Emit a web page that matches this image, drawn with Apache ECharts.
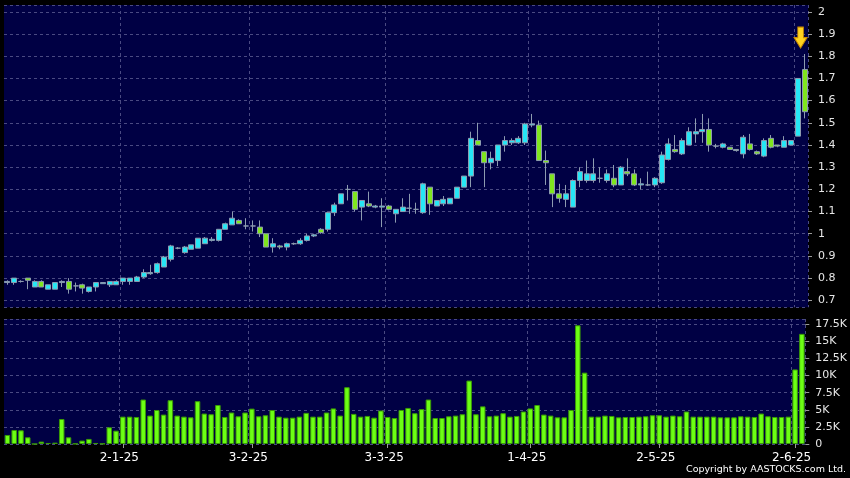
<!DOCTYPE html>
<html><head><meta charset="utf-8">
<script src="https://cdn.jsdelivr.net/npm/echarts@6/dist/echarts.min.js"></script>
<style>html,body{margin:0;padding:0;background:#000;}#c{width:850px;height:478px;}</style>
</head><body><div id="c"></div>
<script>
const dates = [
'5-12-24','6-12-24','9-12-24','10-12-24','11-12-24','12-12-24','13-12-24','16-12-24','17-12-24','18-12-24','19-12-24','20-12-24','23-12-24','24-12-24','27-12-24','30-12-24','31-12-24',
'2-1-25','3-1-25','6-1-25','7-1-25','8-1-25','9-1-25','10-1-25','13-1-25','14-1-25','15-1-25','16-1-25','17-1-25','20-1-25','21-1-25','22-1-25','23-1-25','24-1-25','27-1-25','28-1-25',
'3-2-25','4-2-25','5-2-25','6-2-25','7-2-25','10-2-25','11-2-25','12-2-25','13-2-25','14-2-25','17-2-25','18-2-25','19-2-25','20-2-25','21-2-25','24-2-25','25-2-25','26-2-25','27-2-25','28-2-25',
'3-3-25','4-3-25','5-3-25','6-3-25','7-3-25','10-3-25','11-3-25','12-3-25','13-3-25','14-3-25','17-3-25','18-3-25','19-3-25','20-3-25','21-3-25','24-3-25','25-3-25','26-3-25','27-3-25','28-3-25','31-3-25',
'1-4-25','2-4-25','3-4-25','7-4-25','8-4-25','9-4-25','10-4-25','11-4-25','14-4-25','15-4-25','16-4-25','17-4-25','22-4-25','23-4-25','24-4-25','25-4-25','28-4-25','29-4-25','30-4-25',
'2-5-25','6-5-25','7-5-25','8-5-25','9-5-25','12-5-25','13-5-25','14-5-25','15-5-25','16-5-25','19-5-25','20-5-25','21-5-25','22-5-25','23-5-25','26-5-25','27-5-25','28-5-25','29-5-25','30-5-25',
'2-6-25','3-6-25'
];
const opens = [0.78,0.78,0.785,0.80,0.76,0.785,0.75,0.75,0.78,0.785,0.765,0.77,0.74,0.76,0.775,0.77,0.77,
0.785,0.785,0.785,0.805,0.82,0.825,0.85,0.885,0.935,0.915,0.93,0.935,0.955,0.97,0.97,1.02,1.04,1.06,1.035,
1.035,1.03,1.00,0.94,0.945,0.94,0.955,0.955,0.97,0.99,1.02,1.02,1.095,1.135,1.20,1.19,1.12,1.135,1.12,1.12,
1.125,1.09,1.10,1.115,1.11,1.095,1.21,1.125,1.135,1.135,1.16,1.21,1.26,1.42,1.37,1.32,1.33,1.40,1.41,1.41,1.41,
1.49,1.49,1.33,1.27,1.18,1.155,1.12,1.24,1.24,1.24,1.25,1.24,1.25,1.22,1.28,1.27,1.22,1.22,1.22,
1.23,1.335,1.38,1.36,1.40,1.45,1.46,1.47,1.395,1.39,1.39,1.38,1.36,1.405,1.37,1.35,1.43,1.40,1.39,1.40,
1.44,1.74];
const closes = [0.785,0.80,0.785,0.79,0.785,0.76,0.77,0.78,0.785,0.75,0.765,0.755,0.76,0.78,0.78,0.785,0.785,
0.80,0.80,0.805,0.825,0.825,0.865,0.895,0.945,0.935,0.94,0.95,0.98,0.98,0.975,1.02,1.045,1.07,1.045,1.035,
1.035,1.00,0.94,0.955,0.94,0.955,0.955,0.97,0.99,0.995,1.005,1.095,1.13,1.18,1.20,1.11,1.15,1.125,1.125,1.125,
1.11,1.11,1.12,1.115,1.11,1.225,1.135,1.15,1.155,1.16,1.21,1.26,1.43,1.40,1.32,1.34,1.40,1.42,1.42,1.43,1.495,
1.495,1.33,1.32,1.18,1.16,1.18,1.24,1.28,1.27,1.27,1.25,1.27,1.22,1.30,1.27,1.22,1.225,1.22,1.25,
1.355,1.405,1.37,1.42,1.46,1.46,1.47,1.40,1.395,1.405,1.38,1.375,1.435,1.38,1.36,1.42,1.39,1.395,1.42,1.42,
1.70,1.55];
const lows = [0.77,0.77,0.78,0.75,0.76,0.76,0.75,0.75,0.76,0.73,0.74,0.73,0.735,0.74,0.775,0.76,0.77,
0.77,0.77,0.785,0.80,0.815,0.82,0.85,0.875,0.93,0.91,0.93,0.935,0.955,0.965,0.965,1.02,1.04,1.045,1.02,
1.01,0.985,0.94,0.915,0.93,0.925,0.95,0.95,0.965,0.985,1.00,1.01,1.08,1.135,1.15,1.10,1.06,1.12,1.115,1.03,
1.105,1.05,1.10,1.09,1.09,1.09,1.085,1.125,1.125,1.135,1.16,1.21,1.21,1.40,1.21,1.29,1.305,1.37,1.40,1.405,1.40,
1.48,1.33,1.22,1.12,1.14,1.12,1.12,1.21,1.23,1.23,1.23,1.23,1.21,1.22,1.26,1.215,1.20,1.215,1.21,
1.225,1.33,1.365,1.355,1.40,1.41,1.41,1.37,1.385,1.385,1.38,1.37,1.34,1.375,1.355,1.345,1.385,1.39,1.39,1.40,
1.44,1.52];
const highs = [0.79,0.80,0.79,0.80,0.79,0.79,0.77,0.78,0.79,0.80,0.78,0.775,0.76,0.78,0.78,0.785,0.79,
0.80,0.80,0.81,0.84,0.86,0.87,0.90,0.95,0.94,0.945,0.95,0.98,0.985,0.985,1.02,1.05,1.10,1.065,1.07,
1.06,1.06,1.00,0.98,0.95,0.96,0.96,0.98,1.00,1.00,1.025,1.10,1.14,1.18,1.22,1.19,1.15,1.19,1.13,1.16,
1.13,1.11,1.16,1.18,1.14,1.23,1.21,1.15,1.17,1.16,1.21,1.26,1.46,1.50,1.37,1.37,1.40,1.44,1.43,1.44,1.50,
1.54,1.51,1.375,1.27,1.225,1.22,1.245,1.30,1.33,1.34,1.30,1.29,1.31,1.305,1.34,1.29,1.25,1.28,1.255,
1.37,1.43,1.445,1.43,1.48,1.52,1.54,1.52,1.405,1.41,1.39,1.38,1.445,1.45,1.375,1.43,1.445,1.40,1.44,1.42,
1.70,1.81];
const volumes = [1320,2050,2000,980,0,350,150,200,3650,980,
50,500,740,150,50,2440,1950,4000,4000,3950,
6500,4150,4970,4300,6400,4150,4000,3900,6260,4450,
4350,5700,3950,4600,4050,4600,5170,4050,4200,4970,
4000,3850,3850,4000,4550,4000,4000,4600,5200,4150,
8300,4400,4000,4100,3850,4900,3950,3800,4970,5270,
4500,5100,6500,3800,3800,4050,4150,4350,9270,4350,
5500,4050,4150,4500,4000,4100,4750,5200,5700,4300,
4150,3900,3900,4970,17350,10430,4000,4000,4150,4100,
3900,3950,3950,4000,4050,4200,4200,4000,4150,4050,
4750,4000,4000,4000,4000,3900,3900,3900,4050,4000,
3950,4450,4050,3950,3950,4000,10900,16100];
const copyright = 'Copyright by AASTOCKS.com Ltd.';

const month = d => d.split('-')[1];
const isMonthStart = (i) => i > 0 && month(dates[i]) !== month(dates[i - 1]);
const candles = dates.map((d, i) => [opens[i], closes[i], lows[i], highs[i]]);
const last = dates.length - 1;

const FONT = 'DejaVu Sans';
const GRIDC = '#4a4a82';
const chart = echarts.init(document.getElementById('c'), null, {renderer: 'canvas'});
chart.setOption({
  animation: false,
  backgroundColor: '#000000',
  title: {
    text: copyright, right: 4, top: 465, padding: 0,
    textStyle: {color: '#ffffff', fontSize: 9.5, fontWeight: 'normal', fontFamily: FONT}
  },
  grid: [
    {left: 4, right: 42, top: 5, height: 302.3, show: true, backgroundColor: '#000044', borderWidth: 0},
    {left: 4, right: 42, top: 319, height: 125, show: true, backgroundColor: '#000044', borderWidth: 0}
  ],
  xAxis: [
    {type: 'category', gridIndex: 0, data: dates, boundaryGap: true,
     axisLine: {show: false}, axisTick: {show: false}, axisLabel: {show: false},
     splitLine: {show: true, interval: isMonthStart, lineStyle: {color: GRIDC, type: [3, 3], width: 1}}},
    {type: 'category', gridIndex: 1, data: dates, boundaryGap: true,
     axisLine: {show: false},
     axisTick: {show: true, interval: isMonthStart, alignWithLabel: true, length: 4, lineStyle: {color: '#9a9a9a'}},
     axisLabel: {show: true, interval: isMonthStart, color: '#ffffff', fontSize: 12, fontFamily: FONT, margin: 8,
                 padding: [0, 7, 0, 0], formatter: v => v},
     splitLine: {show: true, interval: isMonthStart, lineStyle: {color: GRIDC, type: [3, 3], width: 1}}}
  ],
  yAxis: [
    {type: 'value', gridIndex: 0, position: 'right', min: 0.6685, max: 2.031,
     splitNumber: 13, minInterval: 0.1, maxInterval: 0.1,
     axisLine: {show: false},
     axisTick: {show: true, length: 4, lineStyle: {color: '#9a9a9a'}},
     axisLabel: {color: '#e6e6e6', fontSize: 11, fontFamily: FONT, margin: 10, showMinLabel: false, showMaxLabel: false},
     splitLine: {show: true, lineStyle: {color: GRIDC, type: [3, 3], width: 1}}},
    {type: 'value', gridIndex: 1, position: 'right', min: 0, max: 18270, interval: 2500,
     axisLine: {show: false},
     axisTick: {show: true, length: 4, lineStyle: {color: '#9a9a9a'}},
     axisLabel: {color: '#e6e6e6', fontSize: 11, fontFamily: FONT, margin: 10, showMaxLabel: false,
                 formatter: v => v === 0 ? '0' : (v / 1000) + 'K'},
     splitLine: {show: true, lineStyle: {color: GRIDC, type: [3, 3], width: 1}}}
  ],
  series: [
    {type: 'candlestick', xAxisIndex: 0, yAxisIndex: 0, data: candles, barWidth: 5.5,
     itemStyle: {color: '#26e6f5', color0: '#80e61e', borderColor: '#8d9bb0', borderColor0: '#8d9bb0',
                 borderColorDoji: '#8d9bb0', borderWidth: 1},
     markPoint: {
       symbol: 'path://M4,0 L10,0 L10,10 L14,10 L7,20 L0,10 L4,10 Z',
       symbolSize: [13, 21], symbolOffset: [-4, -16.5],
       itemStyle: {color: '#ffd21f', borderColor: '#c98a00', borderWidth: 1},
       label: {show: false},
       data: [{coord: [dates[last], highs[last]]}]
     }},
    {type: 'bar', xAxisIndex: 1, yAxisIndex: 1, data: volumes, barWidth: 5.5,
     itemStyle: {color: '#6cff14', borderColor: '#3a9a06', borderWidth: 1}}
  ]
});
</script>
</body></html>
